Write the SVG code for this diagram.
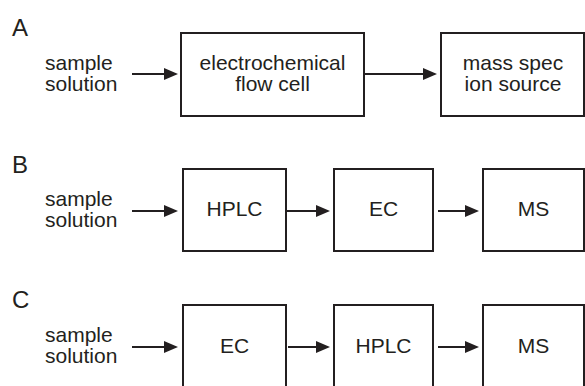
<svg xmlns="http://www.w3.org/2000/svg" width="585" height="386" viewBox="0 0 585 386">
<style>
.box{fill:none;stroke:#231f20;stroke-width:2}
.ln{fill:none;stroke:#231f20;stroke-width:2}
text{font-family:"Liberation Sans",Arial,Helvetica,sans-serif;fill:#231f20;font-size:21px}
.lab{font-size:24px}
.c{text-anchor:middle}
</style>
<defs>
<marker id="ah" markerUnits="userSpaceOnUse" markerWidth="14" markerHeight="12" refX="4" refY="6" orient="auto">
<path d="M0,0 L14,6 L0,12 z" fill="#231f20"/>
</marker>
</defs>
<rect width="585" height="386" fill="#ffffff"/>
<text class="lab" x="12" y="36">A</text>
<text class="lab" x="12" y="173">B</text>
<text class="lab" x="12" y="308">C</text>
<g id="a-sample"><text x="45" y="70">sample</text><text x="45" y="91">solution</text></g>
<g id="a-ec"><rect class="box" x="181" y="33" width="183" height="83"/><text class="c" x="272.5" y="70">electrochemical</text><text class="c" x="272.5" y="91">flow cell</text></g>
<g id="a-ms"><rect class="box" x="441" y="33" width="143" height="83"/><text class="c" x="513" y="70">mass spec</text><text class="c" x="513" y="91">ion source</text></g>
<g id="b-sample"><text x="45" y="206">sample</text><text x="45" y="227">solution</text></g>
<g id="b-hplc"><rect class="box" x="183" y="169" width="103" height="82"/><text class="c" x="234.5" y="216">HPLC</text></g>
<g id="b-ec"><rect class="box" x="334" y="169" width="99" height="82"/><text class="c" x="383.5" y="216">EC</text></g>
<g id="b-ms"><rect class="box" x="483" y="169" width="101" height="82"/><text class="c" x="533.5" y="216">MS</text></g>
<g id="c-sample"><text x="45" y="342">sample</text><text x="45" y="363">solution</text></g>
<g id="c-ec"><rect class="box" x="183" y="305" width="103" height="84"/><text class="c" x="234.5" y="353">EC</text></g>
<g id="c-hplc"><rect class="box" x="334" y="305" width="99" height="84"/><text class="c" x="383.5" y="353">HPLC</text></g>
<g id="c-ms"><rect class="box" x="483" y="305" width="101" height="84"/><text class="c" x="533.5" y="353">MS</text></g>
<g id="connectors">
<line class="ln" x1="132" y1="74" x2="168" y2="74" marker-end="url(#ah)"/>
<line class="ln" x1="364" y1="74" x2="427" y2="74" marker-end="url(#ah)"/>
<line class="ln" x1="132" y1="211" x2="168" y2="211" marker-end="url(#ah)"/>
<line class="ln" x1="287" y1="211" x2="320" y2="211" marker-end="url(#ah)"/>
<line class="ln" x1="438" y1="211" x2="469" y2="211" marker-end="url(#ah)"/>
<line class="ln" x1="132" y1="347" x2="168" y2="347" marker-end="url(#ah)"/>
<line class="ln" x1="288" y1="347" x2="320" y2="347" marker-end="url(#ah)"/>
<line class="ln" x1="438" y1="347" x2="469" y2="347" marker-end="url(#ah)"/>
</g>
</svg>
